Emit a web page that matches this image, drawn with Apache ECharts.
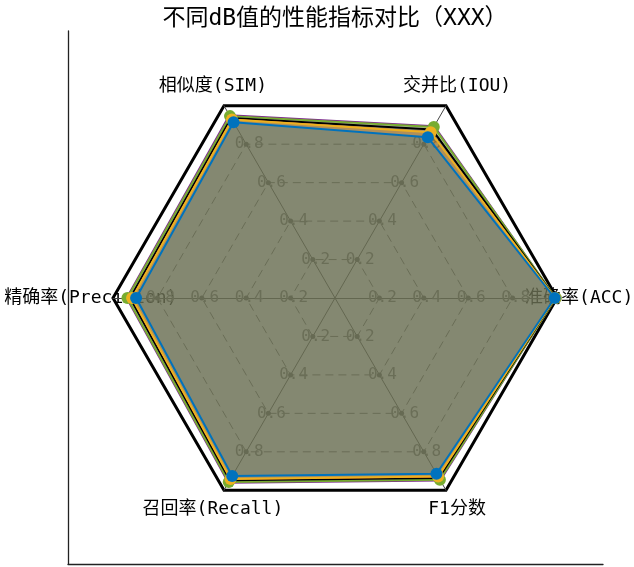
<!DOCTYPE html>
<html><head><meta charset="utf-8">
<script src="https://cdn.jsdelivr.net/npm/echarts@6/dist/echarts.min.js"></script>
<style>html,body{margin:0;padding:0;background:#fff}#c{width:634px;height:567px}</style>
</head><body><div id="c"></div>
<script>
// ---- data ----
const indicators = ['准确率(ACC)', '交并比(IOU)', '相似度(SIM)', '精确率(Precision)', '召回率(Recall)', 'F1分数'];
const tickValues = [0.2, 0.4, 0.6, 0.8];
const seriesNames = ['系列1', '系列2', '系列3', '系列4', '系列5', '系列6'];
const purpleVals = [0.995, 0.895, 0.952, 0.940, 0.962, 0.950];
const greenVals  = [0.995, 0.890, 0.946, 0.935, 0.957, 0.945];
const blackVals  = [0.993, 0.876, 0.936, 0.923, 0.948, 0.936];
const orangeVals = [0.992, 0.864, 0.930, 0.916, 0.943, 0.931];
const yellowVals = [0.992, 0.862, 0.928, 0.914, 0.941, 0.929];
const blueVals   = [0.990, 0.836, 0.914, 0.896, 0.926, 0.914];
const titleText = '不同dB值的性能指标对比（XXX）';

// ---- style ----
const FONT = '"DejaVu Sans Mono", "Noto Sans CJK SC", sans-serif';
const CX = 335, CY = 298, R = 222, NAME_R = 1.1;

const seriesDefs = [
  { name: seriesNames[0], vals: purpleVals, color: '#7E2F8E', width: 1.5, symbol: 'none',   fill: 0.25 },
  { name: seriesNames[1], vals: greenVals,  color: '#77AC30', width: 2,   symbol: 'circle', fill: 0.3 },
  { name: seriesNames[2], vals: blackVals,  color: '#000000', width: 2,   symbol: 'none',   fill: 0.25 },
  { name: seriesNames[4], vals: orangeVals, color: '#D95319', width: 1,   symbol: 'none',   fill: 0.2 },
  { name: seriesNames[3], vals: yellowVals, color: '#EDB120', width: 2,   symbol: 'circle', fill: 0.25 },
  { name: seriesNames[5], vals: blueVals,   color: '#0072BD', width: 2,   symbol: 'circle', fill: 0.25 }
];

const indicatorDefs = indicators.map(n => ({ name: n, min: 0, max: 1 }));

const chart = echarts.init(document.getElementById('c'), null, { renderer: 'canvas' });

const series = [];
tickValues.forEach(t => {
  series.push({
    type: 'radar', radarIndex: 0, silent: true, z: 1,
    symbol: 'circle', symbolSize: 5,
    lineStyle: { opacity: 0, width: 0 },
    itemStyle: { color: '#555555' },
    data: [{ value: indicators.map(() => t) }]
  });
});
seriesDefs.forEach(s => {
  series.push({
    type: 'radar', radarIndex: 0, z: 2, name: s.name,
    symbol: s.symbol, symbolSize: 12,
    lineStyle: { color: s.color, width: s.width },
    itemStyle: { color: s.color },
    areaStyle: { color: s.color, opacity: s.fill },
    data: [{ value: s.vals, name: s.name }]
  });
});

const graphic = indicators.map((n, i) => {
  const a = i * Math.PI * 2 / indicators.length;
  return {
    type: 'text', z: 0,
    x: CX + R * NAME_R * Math.cos(a),
    y: CY - R * NAME_R * Math.sin(a),
    style: { text: n, fill: '#000', fontSize: 18, fontFamily: FONT, align: 'center', verticalAlign: 'middle' }
  };
});

chart.setOption({
  animation: false,
  backgroundColor: '#fff',
  title: {
    text: titleText, left: 330, top: 3, textAlign: 'center',
    textStyle: { fontSize: 23, fontWeight: 'normal', color: '#000', fontFamily: FONT }
  },
  grid: { left: 68, right: 31, top: 31, bottom: 3 },
  xAxis: {
    type: 'value', min: 0, max: 1,
    axisLine: { show: true, onZero: false, lineStyle: { color: '#222', width: 1.3 } },
    axisTick: { show: false }, axisLabel: { show: false }, splitLine: { show: false }
  },
  yAxis: {
    type: 'value', min: 0, max: 1,
    axisLine: { show: true, onZero: false, lineStyle: { color: '#222', width: 1.3 } },
    axisTick: { show: false }, axisLabel: { show: false }, splitLine: { show: false }
  },
  radar: [
    {
      center: [CX, CY], radius: R, startAngle: 0, shape: 'polygon', splitNumber: 5,
      indicator: indicatorDefs,
      axisName: { show: false },
      splitArea: { show: false },
      splitLine: { lineStyle: { color: '#666666', width: 1, type: [8, 5] } },
      axisLine: { lineStyle: { color: '#444444', width: 1 } },
      axisTick: { show: false },
      axisLabel: {
        show: true, margin: 0, align: 'center', verticalAlign: 'middle',
        color: '#6e6e6e', fontSize: 16, fontFamily: FONT, padding: [0, 0, 0, 6],
        formatter: v => (v > 0.001 && v < 0.999) ? Number(v).toFixed(1) : ''
      }
    },
    {
      center: [CX, CY], radius: R, startAngle: 0, shape: 'polygon', splitNumber: 1,
      indicator: indicatorDefs,
      axisName: { show: false },
      splitArea: { show: false },
      splitLine: { lineStyle: { color: '#000000', width: 3 } },
      axisLine: { show: false },
      axisTick: { show: false },
      axisLabel: { show: false }
    }
  ],
  graphic: graphic,
  series: series
});
</script>
</body></html>
